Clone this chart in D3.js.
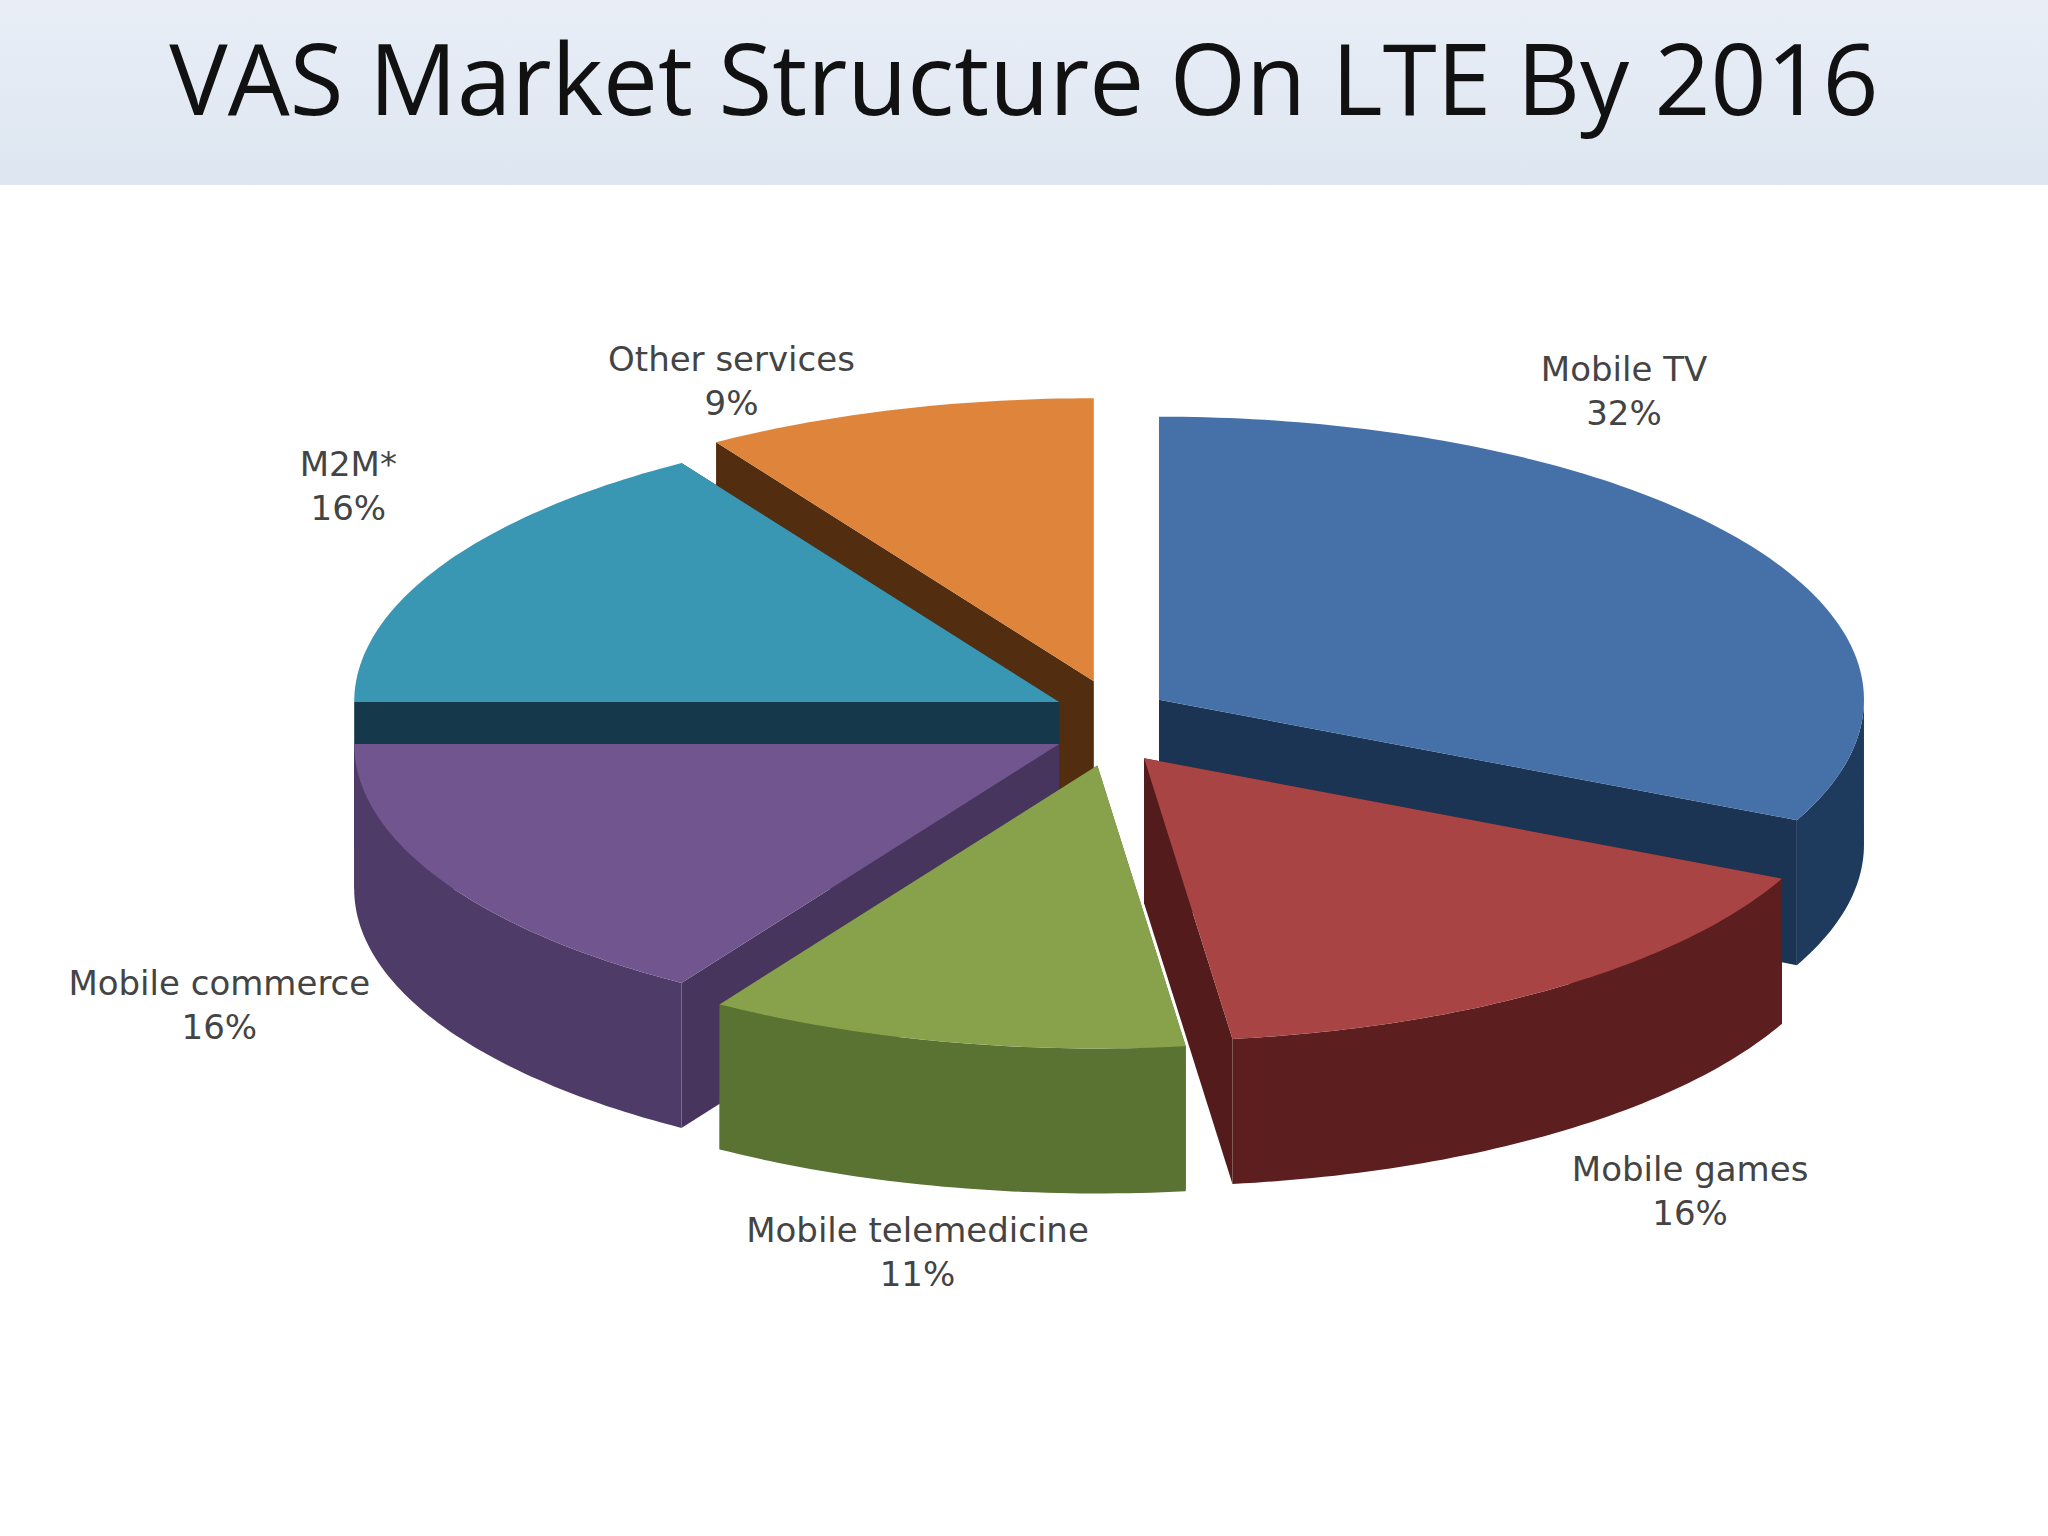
<!DOCTYPE html>
<html><head><meta charset="utf-8">
<script src="https://cdn.jsdelivr.net/npm/d3@7"></script>
<style>body{margin:0;background:#fff}</style></head>
<body><script>
const categories=["Mobile TV","Mobile games","Mobile telemedicine","Mobile commerce","M2M*","Other services"];
const values=[32,16,11,16,16,9];
const topColors=["#4571a8","#a84443","#87a24b","#71558f","#3a97b4","#df843b"];
const sideColors=["#1e3a5c","#5c1e1e","#5a7232","#4f3b68","#173f52","#5c3212"];
// label layout offsets (px) relative to computed anchor
const labelShift=[[-111,-156],[145,33],[-31,36],[-242,-40],[-113,-80],[-172,-19]];

const W=2048,H=1536,cx=1110,cy=723,rx=705,ry=283,depth=145,explode=58;
const svg=d3.select("body").append("svg").attr("width",W).attr("height",H);
const defs=svg.append("defs");
const g=defs.append("linearGradient").attr("id","hdr").attr("x1",0).attr("y1",0).attr("x2",0).attr("y2",1);
g.append("stop").attr("offset",0).attr("stop-color","#e9eef6");
g.append("stop").attr("offset",1).attr("stop-color","#dde6f1");
svg.append("rect").attr("width",W).attr("height",185).attr("fill","url(#hdr)");
svg.append("text").attr("x",W/2).attr("y",115).attr("text-anchor","middle")
  .attr("font-family","Open Sans, Noto Sans, sans-serif").attr("font-size",98).attr("fill","#111")
  .text("VAS Market Structure On LTE By 2016");

const pie=d3.pie().sort(null).value(d=>d)(values);
const ang=d3.scaleLinear().domain([0,2*Math.PI]).range([0,2*Math.PI]);
const slices=pie.map((p,i)=>{
  const mid=(p.startAngle+p.endAngle)/2;
  return {i,p,mid,ox:explode*Math.sin(mid),oy:-explode*Math.cos(mid)*0.75};
});
function pt(s,a,dz=0){return [cx+s.ox+rx*Math.sin(a),cy+s.oy-ry*Math.cos(a)+dz];}
function arcPts(s,a0,a1,dz){const n=Math.max(4,Math.ceil((a1-a0)*60));return d3.range(n+1).map(k=>pt(s,a0+(a1-a0)*k/n,dz));}
const line=d3.line();
const order=slices.slice().sort((a,b)=>(-Math.cos(a.mid))-(-Math.cos(b.mid)));
const layer=svg.append("g");
order.forEach(s=>{
  const a0=ang(s.p.startAngle),a1=ang(s.p.endAngle);
  const c=[cx+s.ox,cy+s.oy];
  const gg=layer.append("g");
  [a0,a1].forEach(a=>{
    const e=pt(s,a);
    gg.append("path").attr("d",line([c,e,[e[0],e[1]+depth],[c[0],c[1]+depth]])+"Z")
      .attr("fill",d3.color(sideColors[s.i]).darker(0.3));
  });
  const f0=Math.max(a0,Math.PI/2),f1=Math.min(a1,3*Math.PI/2);
  if(f1>f0){
    const top=arcPts(s,f0,f1,0),bot=arcPts(s,f0,f1,depth).reverse();
    gg.append("path").attr("d",line(top.concat(bot))+"Z").attr("fill",sideColors[s.i]);
  }
  gg.append("path").attr("d",line([c].concat(arcPts(s,a0,a1,0)))+"Z").attr("fill",topColors[s.i]);
});
slices.forEach(s=>{
  const a=s.mid;
  const x=cx+rx*1.05*Math.sin(a)+labelShift[s.i][0];
  const y=cy-(ry+32)*1.1*Math.cos(a)+(Math.cos(a)<0?depth:0)+labelShift[s.i][1];
  const t=svg.append("text").attr("x",x).attr("y",y).attr("text-anchor","middle")
    .attr("font-family","DejaVu Sans, Verdana, sans-serif").attr("font-size",34).attr("fill","#444");
  t.append("tspan").attr("x",x).text(categories[s.i]);
  t.append("tspan").attr("x",x).attr("dy",44).text(values[s.i]+"%");
});
</script></body></html>
